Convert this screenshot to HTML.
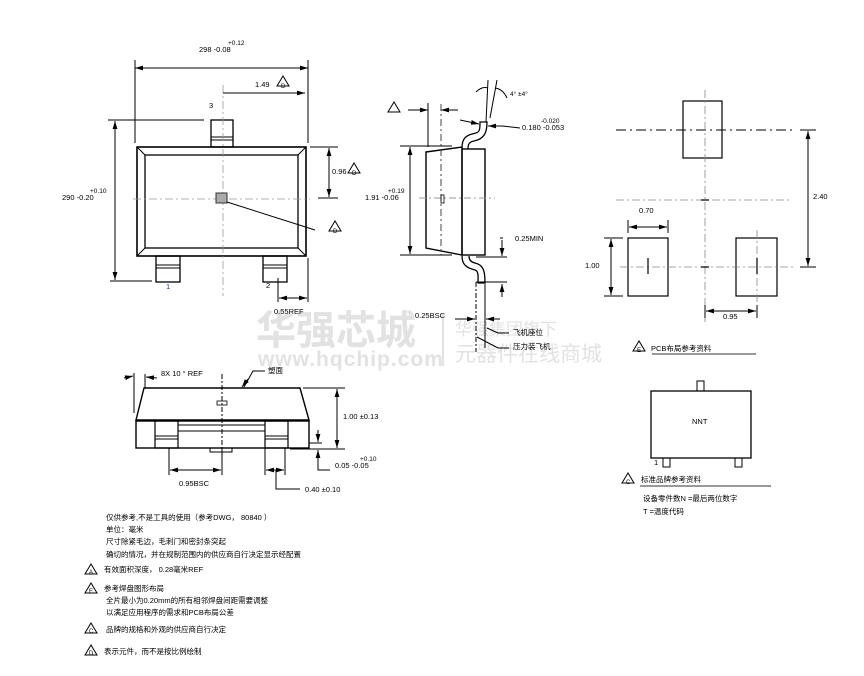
<!DOCTYPE html>
<html><head><meta charset="utf-8"><style>
html,body{margin:0;padding:0;background:#fff;}
svg{display:block;font-family:"Liberation Sans","Noto Sans CJK SC",sans-serif;}
</style></head><body>
<svg width="864" height="676" viewBox="0 0 864 676" xmlns="http://www.w3.org/2000/svg">
<defs>
<marker id="a" viewBox="0 0 10 6" refX="10" refY="3" markerWidth="8" markerHeight="5" orient="auto-start-reverse"><path d="M0,0 L10,3 L0,6 z" fill="#000"/></marker>
<g id="tri"><path d="M0,9 L6,-1 L12,9 Z" fill="#fff" stroke="#000" stroke-width="1"/></g>
</defs>
<g fill="#e2e2e2">
<text x="256" y="344" font-size="40" font-weight="bold" font-family="'Noto Sans CJK SC',sans-serif">华强芯城</text>
<text x="258" y="366" font-size="21" font-weight="bold" font-family="'Liberation Sans',sans-serif" letter-spacing="1">www.hqchip.com</text>
<text x="455" y="335" font-size="17" font-family="'Noto Sans CJK SC',sans-serif">华强集团旗下</text>
<text x="455" y="361" font-size="21" font-family="'Noto Sans CJK SC',sans-serif">元器件在线商城</text>
</g>
<line x1="443" y1="314" x2="443" y2="366" stroke="#e2e2e2" stroke-width="2"/>

<g stroke="#000" fill="none" stroke-width="1">
<rect x="137" y="147" width="169" height="109" stroke-width="1.6"/>
<rect x="145" y="155" width="153" height="93" stroke-width="1.3"/>
<path d="M137,147 L145,155 M306,147 L298,155 M137,256 L145,248 M306,256 L298,248"/>
<rect x="211" y="120" width="22" height="27" stroke-width="1.3"/>
<path d="M211,137 H233 M211,140 H233"/>
<rect x="156" y="256" width="24" height="26" stroke-width="1.3"/>
<path d="M156,265 H180 M156,268 H180"/>
<rect x="263" y="256" width="24" height="26" stroke-width="1.3"/>
<path d="M263,265 H287 M263,268 H287"/>
<path d="M133,199 H310 M223,85 V296" stroke="#999" stroke-dasharray="8,3,2,3" stroke-width="0.8"/>
<rect x="216" y="193" width="11" height="10" fill="#aaa" stroke="#333"/>
<path d="M227,202 L315,230"/>
<path d="M135,60 V143 M308,60 V143"/>
<line x1="135" y1="68" x2="308" y2="68" marker-start="url(#a)" marker-end="url(#a)"/>
<line x1="223" y1="93" x2="305" y2="93" marker-end="url(#a)"/>
<path d="M108,120 H204 M110,281 H152"/>
<line x1="115" y1="121" x2="115" y2="280" marker-start="url(#a)" marker-end="url(#a)"/>
<path d="M310,147 H338 M318,198 H338"/>
<line x1="329" y1="148" x2="329" y2="197" marker-start="url(#a)" marker-end="url(#a)"/>
<path d="M308,258 V302 M278,278 V302" />
<line x1="279" y1="298" x2="307" y2="298" marker-start="url(#a)" marker-end="url(#a)"/>

<path d="M426,152 L462,147 L462,255 L426,248 Z" stroke-width="1.4"/>
<rect x="462" y="149" width="23" height="106" stroke-width="1.4"/>
<path d="M462,148 C462,138 466,135 476,133 C480,132 480,128 480,122 L487,122 C487,133 484,139 474,141 C468,142 468,146 468,149" stroke-width="1.3"/>
<path d="M462,256 C462,265 467,268 475,270 C479,271 478,278 478,283 L485,283 C485,272 484,265 475,263 C470,262 469,259 469,256" stroke-width="1.3"/>
<path d="M441,104 V255" stroke="#444" stroke-dasharray="7,3,2,3"/>
<path d="M419,198 H495" stroke="#999" stroke-dasharray="7,3,2,3"/>
<rect x="441" y="195" width="3" height="8" stroke-width="0.8"/>
<path d="M428,103 V147"/>
<line x1="408" y1="110" x2="428" y2="110" marker-end="url(#a)"/>
<line x1="458" y1="110" x2="441" y2="110" marker-end="url(#a)"/>
<path d="M400,146 H452 M400,255 H452"/>
<line x1="410" y1="147" x2="410" y2="254" marker-start="url(#a)" marker-end="url(#a)"/>
<path d="M488,80 L486,122 M497,80 L490,118"/>
<path d="M476,92 Q482,86 488,88 M495,88 Q503,89 507,98"/>
<line x1="460" y1="120" x2="479" y2="124" marker-end="url(#a)"/>
<path d="M520,128 L502,126"/><line x1="502" y1="126" x2="488" y2="126" marker-end="url(#a)"/>
<path d="M476,257 H507 M476,282 H507"/>
<path d="M503,238 H500"/><line x1="502" y1="240" x2="502" y2="256" marker-end="url(#a)"/>
<line x1="502" y1="297" x2="502" y2="284" marker-end="url(#a)"/>
<path d="M476,282 V352" stroke-dasharray="5,2,2,2"/>
<path d="M485,284 V348"/>
<line x1="455" y1="319" x2="475" y2="319" marker-end="url(#a)"/>
<line x1="500" y1="319" x2="486" y2="319" marker-end="url(#a)"/>
<path d="M509,333 H498 L487,328 M509,348 H498 L477,337"/>

<path d="M144,388 H300 L309,420 H136 Z" stroke-width="1.4"/>
<rect x="136" y="421" width="173" height="27" stroke-width="1.4"/>
<rect x="155" y="421" width="23" height="27" stroke-width="1.2"/>
<rect x="265" y="421" width="23" height="27" stroke-width="1.2"/>
<path d="M155,436 H178 M155,439 H178 M265,436 H288 M265,439 H288 M178,425 H265 M178,431 H265"/>
<rect x="210" y="448" width="22" height="4"/>
<path d="M222,374 V455" stroke-dasharray="5,2,2,2"/>
<rect x="217" y="401" width="10" height="4" stroke-width="0.8"/>
<path d="M134,373 V413 M145,374 V388"/>
<line x1="124" y1="378" x2="133" y2="376" marker-end="url(#a)"/>
<line x1="157" y1="378" x2="146" y2="377" marker-end="url(#a)"/>
<path d="M265,371 H253 L244,387" /><line x1="248" y1="379" x2="242" y2="387" marker-end="url(#a)"/>
<path d="M303,388 H345 M290,449 H345"/>
<line x1="337" y1="389" x2="337" y2="448" marker-start="url(#a)" marker-end="url(#a)"/>
<path d="M309,443 H322"/><line x1="318" y1="430" x2="318" y2="442" marker-end="url(#a)"/>
<line x1="318" y1="464" x2="318" y2="450" marker-end="url(#a)"/>
<path d="M318,462 V470 H330"/>
<path d="M169,448 V475 M222,448 V475 M265,448 V475 M285,448 V475"/>
<line x1="170" y1="470" x2="221" y2="470" marker-start="url(#a)" marker-end="url(#a)"/>
<line x1="266" y1="470" x2="284" y2="470" marker-start="url(#a)" marker-end="url(#a)"/>
<path d="M276,470 V489 H300"/>

<rect x="683" y="101" width="39" height="57" stroke-width="1.2"/>
<rect x="628" y="238" width="40" height="58" stroke-width="1.2"/>
<rect x="736" y="238" width="41" height="58" stroke-width="1.2"/>
<path d="M616,130 H795" stroke-dasharray="10,4,2,4" stroke-width="1"/>
<path d="M616,200 H792 M620,267 H795 M705,90 V322 M757,230 V318" stroke="#888" stroke-dasharray="8,3,2,3" stroke-width="0.8"/>
<path d="M701,200 H709 M701,267 H709 M648,258 V274 M757,258 V274" stroke-width="1.2"/>
<path d="M800,130 H816 M800,267 H816"/>
<line x1="808" y1="131" x2="808" y2="266" marker-start="url(#a)" marker-end="url(#a)"/>
<path d="M628,220 V233 M668,220 V233"/>
<line x1="629" y1="227" x2="667" y2="227" marker-start="url(#a)" marker-end="url(#a)"/>
<path d="M604,238 H623 M604,296 H623"/>
<line x1="611" y1="239" x2="611" y2="295" marker-start="url(#a)" marker-end="url(#a)"/>
<path d="M705,305 V318 M757,305 V318"/>
<line x1="706" y1="311" x2="756" y2="311" marker-start="url(#a)" marker-end="url(#a)"/>

<path d="M652,354 H756 M640,486 H771" stroke="#333"/>
<rect x="651" y="391" width="100" height="67" stroke-width="1.3"/>
<rect x="697" y="381" width="7" height="10"/>
<rect x="663" y="458" width="7" height="9"/>
<rect x="735" y="458" width="7" height="9"/>
</g>

<use href="#tri" x="277" y="77"/>
<use href="#tri" x="348" y="164"/>
<use href="#tri" x="329" y="222"/>
<use href="#tri" x="388" y="103"/>
<use href="#tri" x="633" y="342"/>
<use href="#tri" x="622" y="474"/>
<use href="#tri" x="85" y="565"/>
<use href="#tri" x="85" y="584"/>
<use href="#tri" x="85" y="624"/>
<use href="#tri" x="85" y="646"/>

<g font-size="7.5" fill="#000">
<text x="199" y="52">298 -0.08</text><text x="228" y="45" font-size="6.5">+0.12</text>
<text x="255" y="87">1.49</text>
<text x="209" y="108">3</text>
<text x="62" y="200">290 -0.20</text><text x="90" y="193" font-size="6.5">+0.10</text>
<text x="332" y="174">0.96</text>
<text x="166" y="289" fill="#1a3d8f">1</text>
<text x="266" y="288">2</text>
<text x="274" y="314">0.55REF</text>
<text x="365" y="200">1.91 -0.06</text><text x="388" y="193" font-size="6.5">+0.19</text>
<text x="510" y="96" font-size="6.5">4° ±4°</text>
<text x="522" y="130">0.180 -0.053</text><text x="541" y="123" font-size="6.5">-0.020</text>
<text x="515" y="241">0.25MIN</text>
<text x="415" y="318">0.25BSC</text>
<text x="513" y="335">飞机座位</text>
<text x="513" y="349">压力装飞机</text>
<text x="161" y="376">8X 10 ° REF</text>
<text x="268" y="373">塑面</text>
<text x="343" y="419">1.00 ±0.13</text>
<text x="335" y="468">0.05 -0.05</text><text x="360" y="461" font-size="6.5">+0.10</text>
<text x="179" y="486">0.95BSC</text>
<text x="305" y="492">0.40 ±0.10</text>
<text x="639" y="213">0.70</text>
<text x="813" y="199">2.40</text>
<text x="585" y="268">1.00</text>
<text x="723" y="319">0.95</text>
<text x="651" y="351">PCB布局参考资料</text>
<text x="692" y="424">NNT</text>
<text x="654" y="465">1</text>
<text x="641" y="482">标准品牌参考资料</text>
<text x="643" y="501">设备零件数N =最后两位数字</text>
<text x="643" y="514">T =温度代码</text>
<text x="106" y="520">仅供参考,不是工具的使用（参考DWG，  80840 ）</text>
<text x="106" y="532">单位：毫米</text>
<text x="106" y="544">尺寸除紧毛边，毛刺门和密封条突起</text>
<text x="106" y="557">确切的情况，并在规制范围内的供应商自行决定显示经配置</text>
<text x="104" y="572">有效面积深度，   0.28毫米REF</text>
<text x="104" y="591">参考焊盘图形布局</text>
<text x="106" y="603">  全片最小为0.20mm的所有相邻焊盘间距需要调整</text>
<text x="106" y="615">以满足应用程序的需求和PCB布局公差</text>
<text x="106" y="632">品牌的规格和外观的供应商自行决定</text>
<text x="104" y="654">表示元件，而不是按比例绘制</text>
</g>
<g font-size="6" fill="#000">
<text x="281" y="88">D</text><text x="352" y="175">D</text><text x="333" y="233">D</text>
<text x="637" y="352">E</text><text x="626" y="484">C</text>
<text x="89" y="574">A</text><text x="89" y="593">E</text><text x="89" y="633">C</text><text x="89" y="655">D</text>
</g>
</svg>
</body></html>
